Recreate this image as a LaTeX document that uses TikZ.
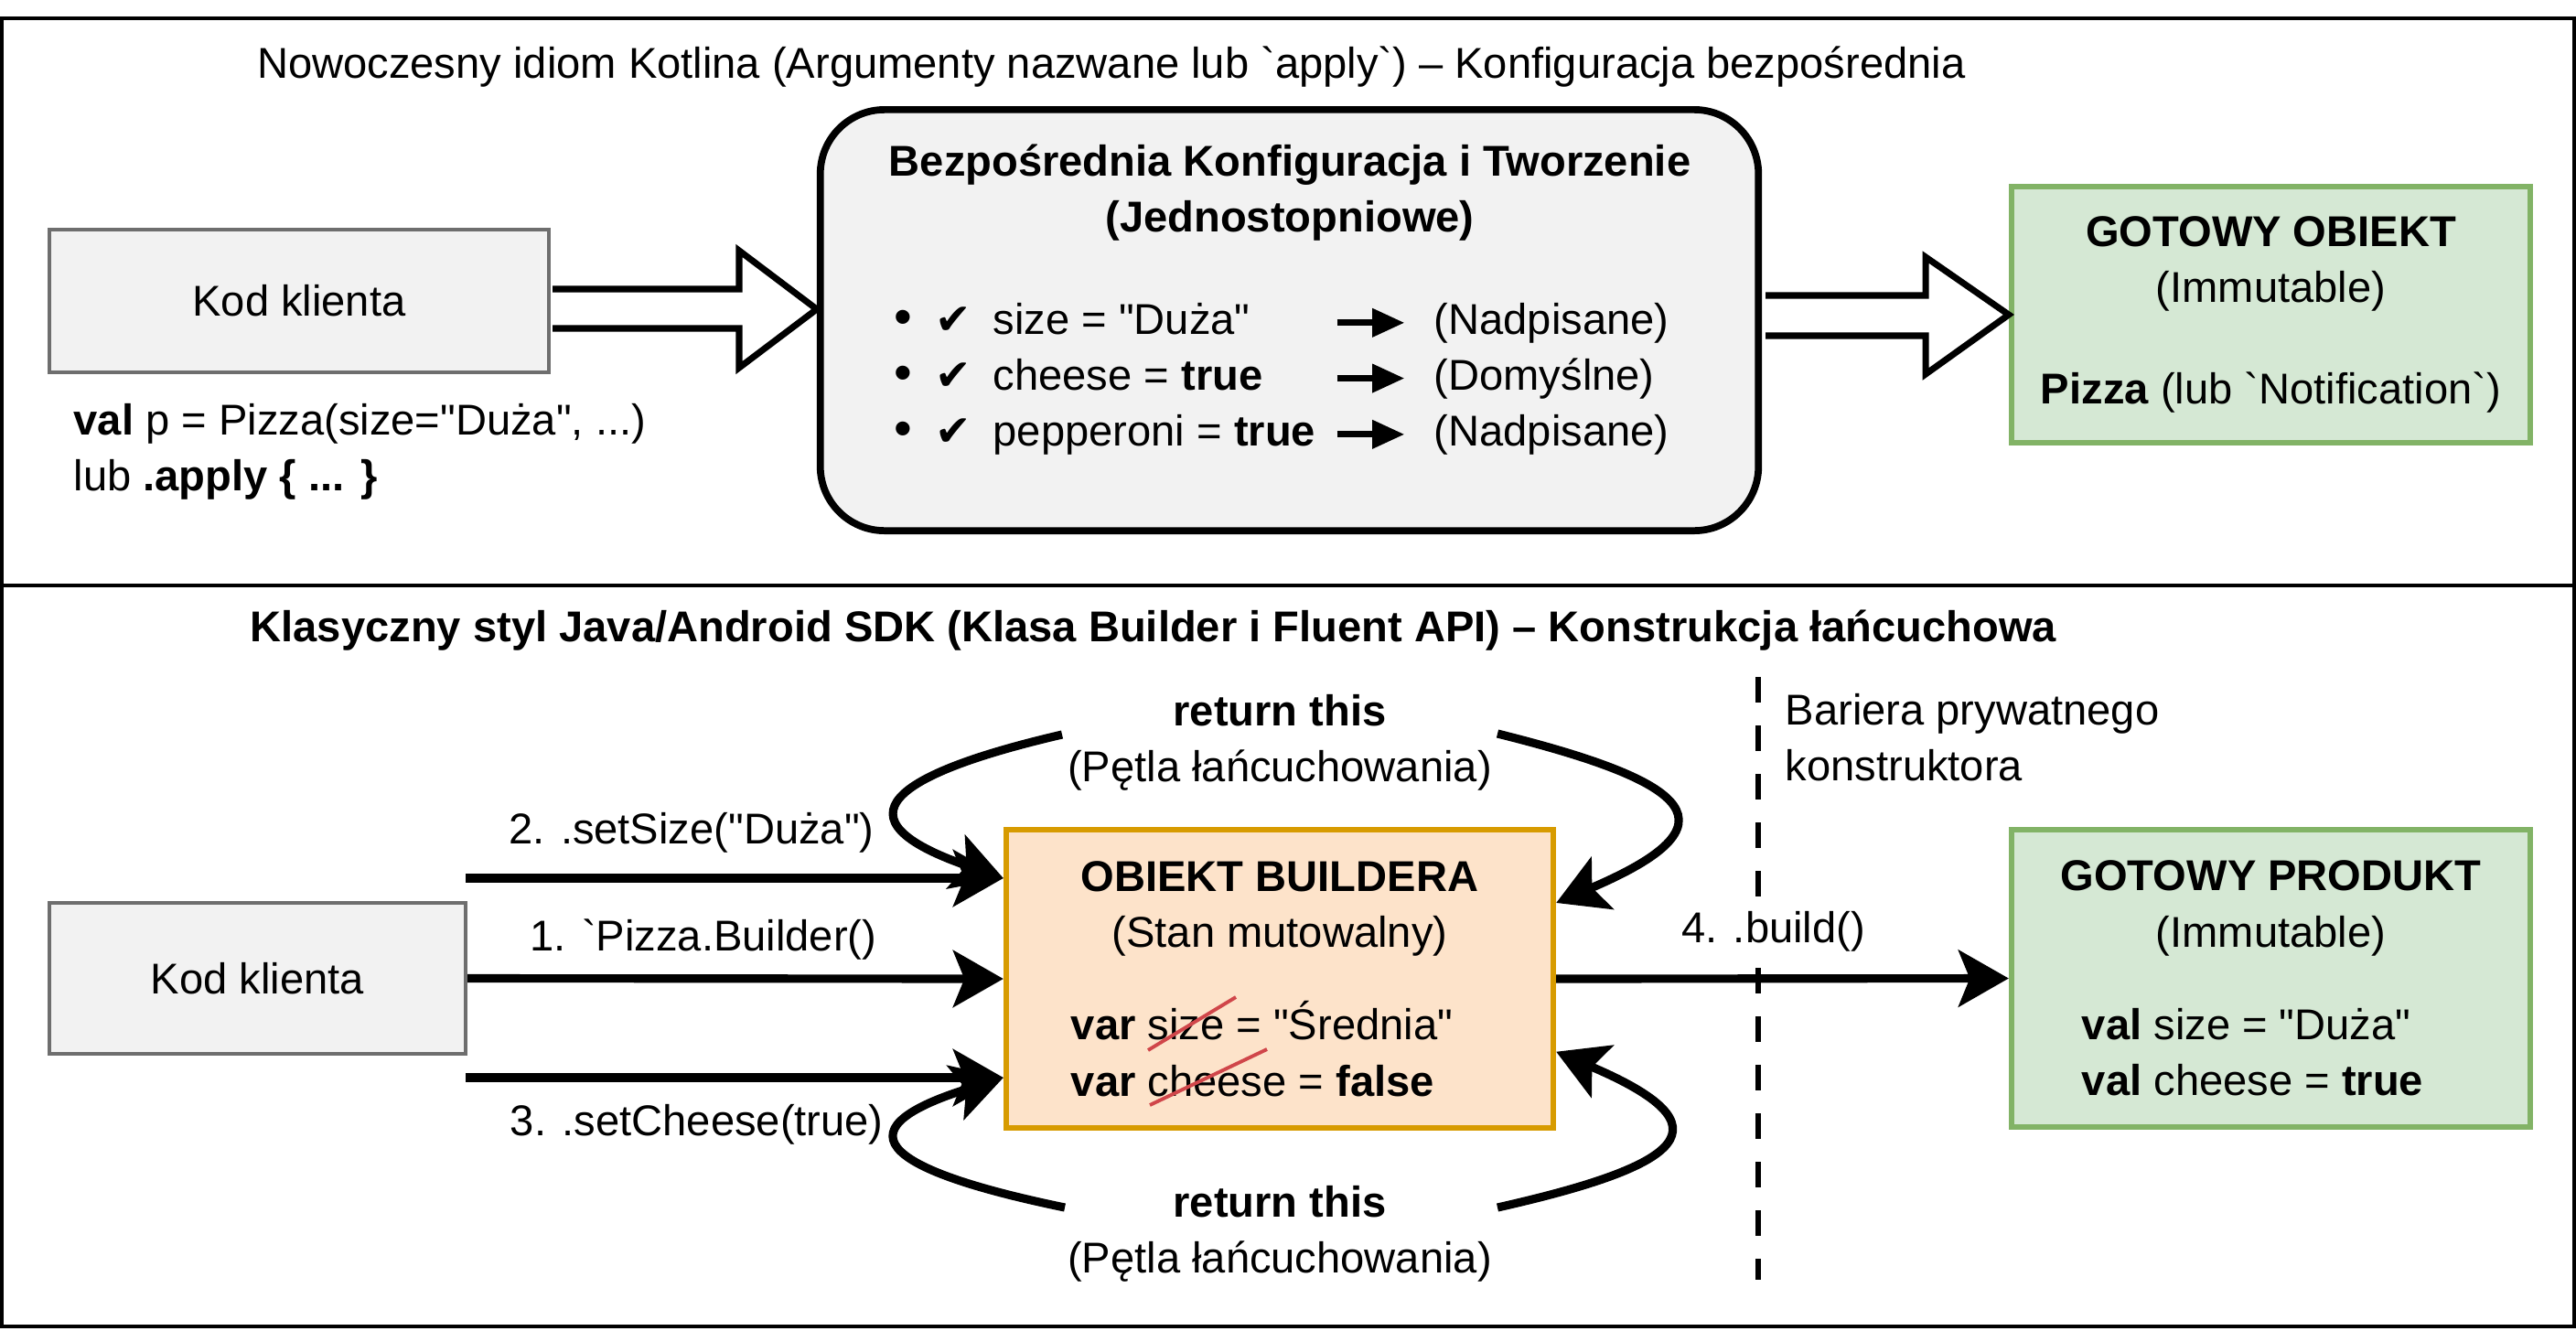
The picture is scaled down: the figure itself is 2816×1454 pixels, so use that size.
\documentclass[tikz,border=0pt]{standalone}
\usepackage{fontspec}
\setmainfont{Liberation Sans}[Ligatures=TeXOff]
\newfontfamily\symfont{DejaVu Sans}
\usetikzlibrary{arrows.meta,calc,positioning}

\definecolor{boxgray}{HTML}{F2F2F2}
\definecolor{boxline}{HTML}{6E6E6E}
\definecolor{okfill}{HTML}{D5E8D4}
\definecolor{okline}{HTML}{82B366}
\definecolor{bldfill}{HTML}{FDE3CA}
\definecolor{bldline}{HTML}{D79B00}
\definecolor{strikered}{HTML}{D0464A}

\newcommand{\txtfont}{\fontsize{13.4}{17.4}\selectfont}
\newcommand{\okitem}{\makebox[0.45cm][l]{\fontsize{16}{17.4}\selectfont•}\makebox[0.63cm][l]{\symfont ✔}}

\tikzset{
  txt/.style={font=\txtfont, inner sep=0pt},
  frame/.style={line width=1.1pt},
  client/.style={draw=boxline, fill=boxgray, line width=1.1pt},
  config/.style={draw=black, fill=boxgray, line width=2.2pt, rounded corners=20pt},
  product/.style={draw=okline, fill=okfill, line width=1.7pt, align=center},
  builder/.style={draw=bldline, fill=bldfill, line width=1.7pt, align=center},
  bigarrow/.style={draw=black, fill=white, line width=2pt, line join=miter},
  listarrow/.style={line width=2pt, -{Triangle[length=10pt,width=8.5pt]}},
  call/.style={line width=2.6pt, -{Stealth[length=15.6pt,width=17.6pt,inset=3.5pt]}},
  barrier/.style={line width=1.7pt, dash pattern=on 7.97pt off 7.11pt},
  strike/.style={strikered, line width=1.1pt}
}

\begin{document}
\begin{tikzpicture}[x=0.01cm, y=-0.01cm, every node/.style={txt}]
  \useasboundingbox (0,0) rectangle (2816,1454);

  % Frame
  \draw[frame] (2,20) rectangle (2814,1450);
  \draw[frame] (2,640) -- (2814,640);

  % Define nodes (Kotlin)
  \node (title1) at (1215,73) {Nowoczesny idiom Kotlina (Argumenty nazwane lub `apply`) – Konfiguracja bezpośrednia};
  \node[client, minimum width=5.46cm, minimum height=1.56cm] (kodA) at (327,329) {Kod klienta};
  \node[anchor=west, align=left] (kodNote) at (80,493.5) {\textbf{val} p = Pizza(size="Duża", ...)\\lub \textbf{.apply \{ ... \}}};
  \node[config, minimum width=10.25cm, minimum height=4.6cm] (konf) at (1409.5,350) {};
  \node[align=center] (konfT) at (1410,210.5) {\textbf{Bezpośrednia Konfiguracja i Tworzenie}\\\textbf{(Jednostopniowe)}};
  \node[anchor=base west] (it1) at (977,365) {\okitem size = "Duża"};
  \node[anchor=base west] (it2) at (977,426) {\okitem cheese = \textbf{true}};
  \node[anchor=base west] (it3) at (977,487) {\okitem pepperoni = \textbf{true}};
  \node[anchor=base west] (nd1) at (1567,365) {(Nadpisane)};
  \node[anchor=base west] (nd2) at (1567,426) {(Domyślne)};
  \node[anchor=base west] (nd3) at (1567,487) {(Nadpisane)};
  \node[product, minimum width=5.67cm, minimum height=2.8cm] (gotA) at (2482.5,344) {\textbf{GOTOWY OBIEKT}\\(Immutable)\\[14.2pt]\textbf{Pizza} (lub `Notification`)};

  % Connect the nodes (Kotlin)
  \draw[bigarrow] ($(kodA.east)+(2,-13)$) -- (808,316) -- (808,274) -- ($(konf.west)+(0,-12)$) -- (808,402) -- (808,359) -- ($(kodA.east)+(2,30)$);
  \draw[bigarrow] ($(konf.east)+(4,-27)$) -- (2105,323) -- (2105,281) -- (gotA.west) -- (2105,409) -- (2105,367) -- ($(konf.east)+(4,17)$);
  \draw[listarrow] ([xshift=-30pt]nd1.west) -- ([xshift=-9pt]nd1.west);
  \draw[listarrow] ([xshift=-30pt]nd2.west) -- ([xshift=-9pt]nd2.west);
  \draw[listarrow] ([xshift=-30pt]nd3.west) -- ([xshift=-9pt]nd3.west);

  % Define nodes (Builder)
  \node (title2) at (1261,689) {\textbf{Klasyczny styl Java/Android SDK (Klasa Builder i Fluent API) – Konstrukcja łańcuchowa}};
  \node[client, minimum width=4.55cm, minimum height=1.65cm] (kodB) at (281.5,1069.5) {Kod klienta};
  \node[builder, minimum width=5.98cm, minimum height=3.26cm] (bld) at (1399,1070) {\textbf{OBIEKT BUILDERA}\\(Stan mutowalny)\\[11.4pt]\makebox[4.56cm][l]{\textbf{var} size = "Średnia"}\\\makebox[4.56cm][l]{\textbf{var} cheese = \textbf{false}}};
  \node[product, minimum width=5.67cm, minimum height=3.25cm] (gotB) at (2482.5,1069.5) {\textbf{GOTOWY PRODUKT}\\(Immutable)\\[11.4pt]\makebox[4.13cm][l]{\textbf{val} size = "Duża"}\\\makebox[4.13cm][l]{\textbf{val} cheese = \textbf{true}}};
  \node[align=center] (retTop) at (1399,812) {\textbf{return this}\\(Pętla łańcuchowania)};
  \node[align=center] (retBot) at (1399,1349) {\textbf{return this}\\(Pętla łańcuchowania)};
  \node[align=left, anchor=west] (barLbl) at (1951,806) {Bariera prywatnego\\konstruktora};

  \coordinate (s2) at (509,960);
  \coordinate (s3) at (509,1178);
  \coordinate (lTL) at (1161,803);
  \coordinate (lTR) at (1637,802);
  \coordinate (lBL) at (1164,1320);
  \coordinate (lBR) at (1637,1320);
  \coordinate (barTop) at (1922,740);
  \coordinate (barBot) at (1922,1399);

  % Barrier
  \draw[barrier] (barTop) -- (barBot);

  % Connect the nodes (Builder)
  \draw[call] (kodB.east) -- node[above=4.5pt, pos=0.44] (c1) {1. `Pizza.Builder()} (bld.west);
  \draw[call] (s2) -- node[above=6.5pt, pos=0.42] (c2) {2. .setSize("Duża")} (bld.west |- s2);
  \draw[call] (s3) -- node[below=7pt, pos=0.43] (c3) {3. .setCheese(true)} (bld.west |- s3);
  \draw[call] (bld.east) -- node[above=5pt, pos=0.48, fill=white, inner sep=2pt] (c4) {4. .build()} (gotB.west);

  % Loops
  \draw[call] (lTL) .. controls +(-185,43) and +(-189,-65) .. (bld.west |- s2);
  \draw[call] (lTR) .. controls +(213,53) and +(202,-86) .. ($(bld.north east)!0.25!(bld.south east)$);
  \draw[call] (lBL) .. controls +(-184,-38) and +(-192,60) .. (bld.west |- s3);
  \draw[call] (lBR) .. controls +(204,-46) and +(193,82) .. ($(bld.north east)!0.74!(bld.south east)$);

  % Strikes
  \draw[strike] ($(bld.center)+(-144,78)$) -- ++(96,-58);
  \draw[strike] ($(bld.center)+(-142,138)$) -- ++(128,-61);

\end{tikzpicture}
\end{document}
